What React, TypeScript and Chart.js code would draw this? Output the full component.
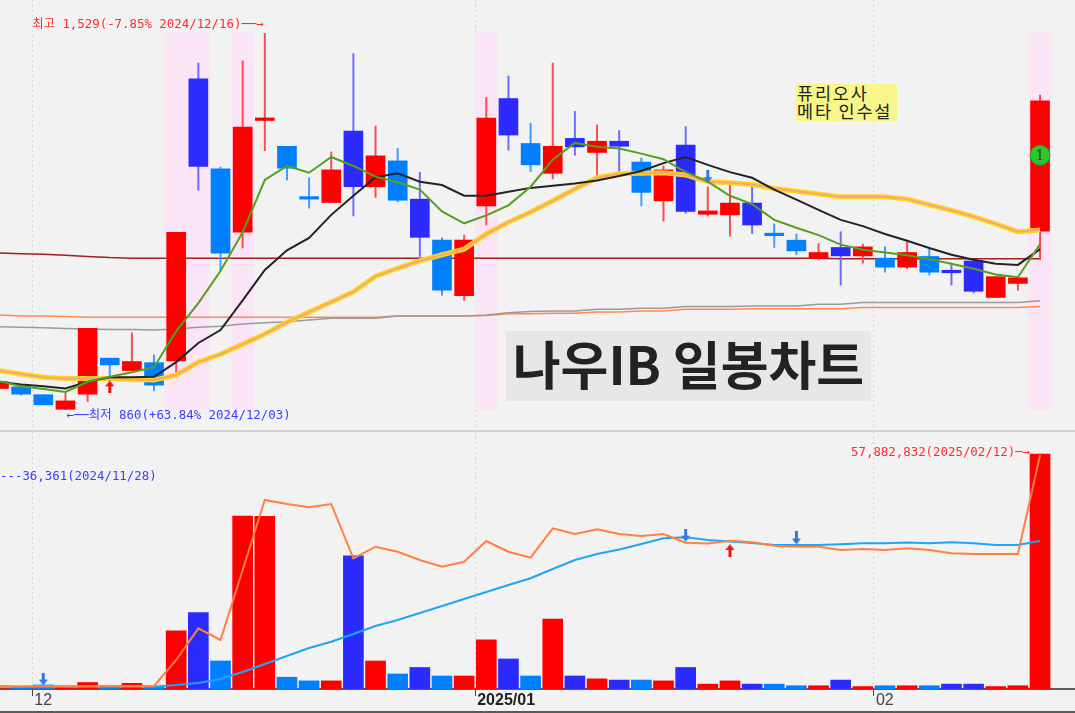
import React, { useEffect, useRef } from 'react';
import { Chart, registerables } from 'chart.js';

Chart.register(...registerables);

// ---------------- data ----------------
const DATES = [
  '2024/11/28', '2024/11/29', '2024/12/02', '2024/12/03', '2024/12/04', '2024/12/05', '2024/12/06', '2024/12/09',
  '2024/12/10', '2024/12/11', '2024/12/12', '2024/12/13', '2024/12/16', '2024/12/17', '2024/12/18', '2024/12/19',
  '2024/12/20', '2024/12/23', '2024/12/24', '2024/12/26', '2024/12/27', '2024/12/30', '2025/01/02', '2025/01/03',
  '2025/01/06', '2025/01/07', '2025/01/08', '2025/01/09', '2025/01/10', '2025/01/13', '2025/01/14', '2025/01/15',
  '2025/01/16', '2025/01/17', '2025/01/20', '2025/01/21', '2025/01/22', '2025/01/23', '2025/01/24', '2025/01/31',
  '2025/02/03', '2025/02/04', '2025/02/05', '2025/02/06', '2025/02/07', '2025/02/10', '2025/02/11', '2025/02/12',
];
const OPEN = [
  897, 900, 886, 860, 887, 951, 929, 943, 946, 1448, 1288, 1175, 1374, 1328, 1235, 1228,
  1355, 1256, 1302, 1234, 1161, 1062, 1222, 1413, 1333, 1280, 1342, 1317, 1337, 1300, 1231, 1330,
  1207, 1206, 1227, 1170, 1161, 1129, 1148, 1133, 1129, 1113, 1132, 1104, 1124, 1059, 1084, 1177,
];
const HIGH = [
  910, 900, 886, 890, 1004, 951, 996, 957, 1175, 1476, 1291, 1480, 1529, 1328, 1272, 1318,
  1493, 1364, 1324, 1282, 1165, 1170, 1415, 1453, 1369, 1476, 1390, 1366, 1356, 1307, 1293, 1363,
  1256, 1259, 1256, 1190, 1172, 1155, 1176, 1154, 1149, 1158, 1146, 1120, 1127, 1096, 1094, 1419,
];
const LOW = [
  896, 885, 868, 860, 874, 918, 929, 893, 918, 1250, 1107, 1147, 1320, 1268, 1218, 1228,
  1204, 1237, 1229, 1132, 1063, 1054, 1188, 1321, 1283, 1270, 1312, 1271, 1283, 1222, 1195, 1209,
  1204, 1168, 1173, 1148, 1135, 1126, 1081, 1120, 1104, 1110, 1099, 1081, 1067, 1059, 1072, 1126,
];
const CLOSE = [
  909, 887, 868, 875, 1004, 939, 945, 903, 1175, 1292, 1138, 1362, 1376, 1289, 1234, 1286,
  1256, 1311, 1232, 1166, 1072, 1161, 1378, 1348, 1295, 1328, 1327, 1337, 1328, 1246, 1286, 1212,
  1213, 1227, 1188, 1169, 1142, 1139, 1133, 1149, 1113, 1139, 1104, 1103, 1070, 1096, 1094, 1409,
];
// volume, millions of shares
const VOLUME_M = [
  0.036361, 0.57, 1.0, 0.7, 1.6, 0.7, 1.4, 0.7, 14.3, 18.8, 6.9, 42.6, 42.5, 2.9, 2.0, 2.0,
  32.8, 6.9, 3.7, 5.3, 3.2, 3.2, 12.1, 7.4, 3.2, 17.2, 3.2, 2.5, 2.2, 2.2, 2.0, 5.3,
  1.2, 2.0, 1.2, 1.2, 0.8, 0.8, 2.2, 0.6, 0.8, 0.8, 0.8, 1.2, 1.2, 0.6, 0.8, 57.882832,
];
const MA5 = [
  910, 901, 896, 891, 909, 918, 926, 935, 999, 1049, 1106, 1175, 1268, 1293, 1281, 1309,
  1293, 1274, 1264, 1251, 1212, 1191, 1205, 1223, 1256, 1304, 1334, 1327, 1324, 1315, 1305, 1282,
  1265, 1240, 1225, 1197, 1183, 1170, 1153, 1144, 1139, 1134, 1127, 1119, 1110, 1100, 1095, 1154,
];
const MA10 = [
  909, 904, 901, 897, 909, 917, 917, 918, 944, 978, 1001, 1054, 1108, 1143, 1165, 1206,
  1240, 1273, 1280, 1265, 1259, 1240, 1240, 1247, 1254, 1258, 1262, 1267, 1275, 1284, 1298, 1309,
  1295, 1282, 1272, 1251, 1233, 1215, 1197, 1186, 1172, 1160, 1147, 1135, 1126, 1119, 1117, 1145,
];
const MA20 = [
  929, 923, 917, 915, 915, 915, 913, 912, 921, 944, 958, 976, 994, 1015, 1033, 1051,
  1069, 1097, 1111, 1124, 1135, 1145, 1172, 1193, 1211, 1231, 1252, 1272, 1279, 1280, 1281, 1277,
  1265, 1263, 1260, 1253, 1248, 1243, 1238, 1238, 1238, 1234, 1224, 1214, 1203, 1190, 1176, 1179,
];
const MA60 = [
  1138, 1137, 1136, 1134, 1132, 1130, 1129, 1129, 1129, 1129, 1129, 1129, 1129, 1129, 1129, 1129,
  1129, 1129, 1129, 1129, 1129, 1129, 1129, 1129, 1129, 1129, 1129, 1129, 1129, 1129, 1129, 1129,
  1129, 1129, 1129, 1129, 1129, 1129, 1128, 1128, 1128, 1128, 1128, 1128, 1128, 1128, 1128, 1128,
];
const MA120 = [
  1028, 1026, 1026, 1025, 1024, 1024, 1024, 1024, 1024, 1024, 1024, 1024, 1024, 1024, 1024, 1024,
  1024, 1024, 1026, 1026, 1026, 1026, 1027, 1030, 1030, 1031, 1031, 1033, 1033, 1035, 1035, 1038,
  1038, 1038, 1039, 1039, 1039, 1039, 1039, 1041, 1041, 1041, 1041, 1041, 1041, 1041, 1041, 1043,
];
const MA240 = [
  1007, 1006, 1005, 1004, 1003, 1002, 1002, 1001, 1003, 1006, 1008, 1012, 1014, 1016, 1019, 1022,
  1022, 1022, 1026, 1026, 1026, 1026, 1028, 1032, 1034, 1035, 1035, 1038, 1038, 1040, 1040, 1043,
  1043, 1043, 1044, 1044, 1044, 1047, 1047, 1050, 1050, 1050, 1050, 1050, 1050, 1050, 1050, 1053,
];
const VOL_MA_SHORT = [
  0.74, 0.62, 0.74, 0.62, 0.74, 0.74, 0.74, 0.74, 7.14, 14.95, 12.07, 29.3, 46.55, 45.57, 44.75, 45.57,
  32.19, 35.05, 33.82, 31.77, 30.12, 31.35, 36.45, 33.82, 32.34, 39.58, 38.18, 39.33, 38.18, 37.68, 38.18, 36.03,
  35.84, 36.53, 36.13, 35.3, 35.05, 35.05, 34.24, 34.48, 34.24, 34.66, 34.24, 33.42, 33.25, 33.25, 33.25, 57.64,
];
const VOL_MA_LONG = [
  0.57, 0.57, 0.57, 0.57, 0.57, 0.57, 0.57, 0.57, 0.99, 1.48, 2.46, 4.19, 6.16, 8.13, 10.1, 11.65,
  13.55, 15.52, 17.0, 18.72, 20.44, 22.17, 23.89, 25.62, 27.27, 29.56, 31.77, 33.25, 34.36, 35.71, 37.12, 37.36,
  36.7, 36.33, 35.96, 35.47, 35.47, 35.47, 35.64, 35.89, 35.89, 36.08, 35.89, 36.13, 35.89, 35.47, 35.47, 36.45,
];
const HIGHLIGHT_DATES = ['2024/12/10', '2024/12/11', '2024/12/13', '2025/01/02', '2025/02/12'];
const PRICE_SIGNALS = [
  { date: '2024/12/05', value: 900, dir: 'up' },
  { date: '2025/01/16', value: 1274, dir: 'down' },
];
const VOLUME_SIGNALS = [
  { date: '2024/12/02', value: 2.46, dir: 'down' },
  { date: '2025/01/15', value: 37.9, dir: 'down' },
  { date: '2025/01/17', value: 34.1, dir: 'up' },
  { date: '2025/01/22', value: 37.2, dir: 'down' },
];
const BADGE = { date: '2025/02/12', value: 1312, text: '1' };
const TITLE = '나우IB 일봉차트';
const NOTE = ['퓨리오사', '메타 인수설'];

// ---------------- view settings ----------------
const X_MIN = 0.045;
const X_MAX = 48.578;
const PRICE_MIN = 823.2;
const PRICE_MAX = 1588.3;
const VOL_MAX = 63.3;

const RED = '#FF0000';
const RED_WICK = '#FF4A4A';
const DBLUE = '#2B2BFF';
const DBLUE_WICK = '#6A6AFF';
const LBLUE = '#0080FF';
const LBLUE_WICK = '#3D9BFF';
const LABEL_FONT = '12.4px "DejaVu Sans Mono", "Noto Sans CJK KR", monospace';

function kind(i: number): 'up' | 'down' | 'down2' {
  if (CLOSE[i] >= OPEN[i]) return 'up';
  if (i > 0 && OPEN[i] >= CLOSE[i - 1]) return 'down';
  return 'down2';
}
const bodyColor = (i: number) => ({ up: RED, down: DBLUE, down2: LBLUE }[kind(i)]);
const wickColor = (i: number) => ({ up: RED_WICK, down: DBLUE_WICK, down2: LBLUE_WICK }[kind(i)]);

// month boundaries -> tick positions and labels
const MONTH_TICKS: number[] = [];
const MONTH_LABELS: string[] = [];
DATES.forEach((d, i) => {
  if (i === 0) return;
  const [y0, m0] = DATES[i - 1].split('/');
  const [y1, m1] = d.split('/');
  if (m0 !== m1) {
    MONTH_TICKS.push(i - 0.5);
    MONTH_LABELS.push(y0 !== y1 ? `${y1}/${m1}` : m1);
  }
});

function makeArrow(color: string, dir: string): HTMLCanvasElement {
  const c = document.createElement('canvas');
  c.width = 9;
  c.height = 13;
  const g = c.getContext('2d')!;
  g.fillStyle = color;
  g.beginPath();
  if (dir === 'up') {
    g.moveTo(4.5, 0); g.lineTo(9, 6); g.lineTo(6, 6); g.lineTo(6, 13);
    g.lineTo(3, 13); g.lineTo(3, 6); g.lineTo(0, 6);
  } else {
    g.moveTo(4.5, 13); g.lineTo(9, 7); g.lineTo(6, 7); g.lineTo(6, 0);
    g.lineTo(3, 0); g.lineTo(3, 7); g.lineTo(0, 7);
  }
  g.closePath();
  g.fill();
  return c;
}

const fmt = (n: number) => n.toLocaleString('en-US');
const series = (arr: number[]) => arr.map((v, i) => ({ x: i, y: v }));

function monthTicks(scale: any) {
  scale.ticks = MONTH_TICKS.map((v) => ({ value: v }));
}

function lineDs(label: string, arr: number[], color: string, width: number, order: number) {
  return {
    type: 'line' as const,
    label,
    data: series(arr),
    borderColor: color,
    borderWidth: width,
    pointRadius: 0,
    tension: 0,
    fill: false,
    order,
  };
}

export default function App() {
  const priceRef = useRef<HTMLCanvasElement>(null);
  const volRef = useRef<HTMLCanvasElement>(null);

  useEffect(() => {
    const upRed = makeArrow('#E81414', 'up');
    const downBlue = makeArrow('#2C7BE5', 'down');
    const arrowFor = (dir: string) => (dir === 'up' ? upRed : downBlue);

    const lo = Math.min(...LOW);
    const hi = Math.max(...HIGH);
    const bandIdx = HIGHLIGHT_DATES.map((d) => DATES.indexOf(d));

    const priceAnnotations = {
      id: 'priceAnnotations',
      afterDatasetsDraw(chart: any) {
        const { ctx } = chart;
        const xs = chart.scales.x;
        const ys = chart.scales.y;
        const hiIdx = HIGH.indexOf(hi);
        const loIdx = LOW.indexOf(lo);
        const last = CLOSE[CLOSE.length - 1];
        ctx.save();
        ctx.font = LABEL_FONT;
        ctx.textBaseline = 'middle';
        ctx.fillStyle = '#FF2B2B';
        ctx.textAlign = 'right';
        ctx.fillText(
          `최고 ${fmt(hi)}(${((last / hi - 1) * 100).toFixed(2)}% ${DATES[hiIdx]})──→`,
          xs.getPixelForValue(hiIdx) - 1,
          ys.getPixelForValue(hi) - 9,
        );
        ctx.fillStyle = '#3B3BFF';
        ctx.textAlign = 'left';
        ctx.fillText(
          `←──최저 ${fmt(lo)}(+${((last / lo - 1) * 100).toFixed(2)}% ${DATES[loIdx]})`,
          xs.getPixelForValue(loIdx) + 1,
          ys.getPixelForValue(lo) + 6,
        );
        const bi = DATES.indexOf(BADGE.date);
        ctx.fillStyle = '#1F4F1F';
        ctx.textAlign = 'center';
        ctx.font = '14px "DejaVu Serif", serif';
        ctx.fillText(BADGE.text, xs.getPixelForValue(bi), ys.getPixelForValue(BADGE.value) + 1);
        ctx.restore();
      },
    };

    const volAnnotations = {
      id: 'volAnnotations',
      afterDatasetsDraw(chart: any) {
        const { ctx, chartArea } = chart;
        const xs = chart.scales.x;
        const ys = chart.scales.y;
        const vMax = Math.max(...VOLUME_M);
        const iMax = VOLUME_M.indexOf(vMax);
        const vMin = Math.min(...VOLUME_M);
        const iMin = VOLUME_M.indexOf(vMin);
        ctx.save();
        ctx.font = LABEL_FONT;
        ctx.textBaseline = 'middle';
        ctx.fillStyle = '#FF2B2B';
        ctx.textAlign = 'right';
        ctx.fillText(
          `${fmt(Math.round(vMax * 1e6))}(${DATES[iMax]})─→`,
          xs.getPixelForValue(iMax) - 10,
          ys.getPixelForValue(vMax) - 1,
        );
        ctx.fillStyle = '#3B3BFF';
        ctx.textAlign = 'left';
        ctx.fillText(`---${fmt(Math.round(vMin * 1e6))}(${DATES[iMin]})`, chartArea.left, chartArea.top + 45);
        ctx.restore();
      },
    };

    const baseX = {
      type: 'linear' as const,
      min: X_MIN,
      max: X_MAX,
      offset: false,
      afterBuildTicks: monthTicks,
    };

    const commonOptions = {
      animation: false,
      responsive: false,
      maintainAspectRatio: false,
      devicePixelRatio: 1,
      events: [],
      layout: { padding: 0, autoPadding: false },
      plugins: { legend: { display: false }, tooltip: { enabled: false }, title: { display: false } },
    };

    const priceChart = new Chart(priceRef.current!, {
      type: 'bar',
      data: {
        datasets: [
          {
            type: 'bar',
            label: 'highlight',
            data: bandIdx.map((i) => ({ x: i, y: [lo, hi] })),
            backgroundColor: '#FCE4F7',
            barThickness: 22.2,
            grouped: false,
            order: 20,
          } as any,
          lineDs('MA240', MA240, '#9A9A9A', 1.5, 15),
          lineDs('MA120', MA120, '#FF8A50', 1.5, 15),
          lineDs('MA60', MA60, '#A01E1E', 1.5, 15),
          {
            type: 'bar',
            label: 'wick',
            data: LOW.map((l, i) => ({ x: i, y: [l, HIGH[i]] })),
            backgroundColor: (c: any) => wickColor(c.dataIndex),
            barThickness: 1.3,
            grouped: false,
            order: 12,
          } as any,
          {
            type: 'bar',
            label: 'body',
            data: OPEN.map((o, i) => ({ x: i, y: [o, CLOSE[i]] })),
            backgroundColor: (c: any) => bodyColor(c.dataIndex),
            barThickness: 19,
            minBarLength: 2.5,
            grouped: false,
            order: 11,
          } as any,
          lineDs('MA20', MA20, '#FFD21F', 5, 8),
          lineDs('MA20core', MA20, '#F2A083', 1.5, 7),
          lineDs('MA10', MA10, '#232323', 2, 6),
          lineDs('MA5', MA5, '#55A01C', 2, 5),
          {
            type: 'line',
            label: 'signals',
            data: PRICE_SIGNALS.map((s) => ({ x: DATES.indexOf(s.date), y: s.value, dir: s.dir })),
            showLine: false,
            pointStyle: (c: any) => arrowFor(c.raw?.dir),
            pointRadius: 6,
            order: 1,
          } as any,
          {
            type: 'line',
            label: 'badge',
            data: [{ x: DATES.indexOf(BADGE.date), y: BADGE.value }],
            showLine: false,
            pointStyle: 'circle',
            pointRadius: 10,
            pointBackgroundColor: '#2DC62D',
            pointBorderColor: '#22A322',
            pointBorderWidth: 1,
            order: 0,
          } as any,
        ],
      },
      options: {
        ...commonOptions,
        scales: {
          x: {
            ...baseX,
            afterFit: (s: any) => { s.height = 0; },
            ticks: { display: false },
            grid: { color: '#D6D6D6', lineWidth: 1, drawTicks: false, offset: false },
            border: { display: false, dash: [2, 3] },
          },
          y: { display: false, min: PRICE_MIN, max: PRICE_MAX },
        },
      } as any,
      plugins: [priceAnnotations],
    });

    const isYearLabel = (i: number) => (MONTH_LABELS[i] || '').length > 2;

    const volChart = new Chart(volRef.current!, {
      type: 'bar',
      data: {
        datasets: [
          {
            type: 'bar',
            label: '거래량',
            data: series(VOLUME_M),
            backgroundColor: (c: any) => bodyColor(c.dataIndex),
            barThickness: 20,
            grouped: false,
            order: 10,
          } as any,
          lineDs('거래량 장기', VOL_MA_LONG, '#1EA6F5', 2, 6),
          lineDs('거래량 단기', VOL_MA_SHORT, '#FF8040', 2, 5),
          {
            type: 'line',
            label: 'signals',
            data: VOLUME_SIGNALS.map((s) => ({ x: DATES.indexOf(s.date), y: s.value, dir: s.dir })),
            showLine: false,
            pointStyle: (c: any) => arrowFor(c.raw?.dir),
            pointRadius: 6,
            order: 0,
          } as any,
        ],
      },
      options: {
        ...commonOptions,
        scales: {
          x: {
            ...baseX,
            afterFit: (s: any) => { s.height = 24; },
            ticks: {
              autoSkip: false,
              maxRotation: 0,
              minRotation: 0,
              align: 'start',
              labelOffset: 2,
              padding: -5,
              callback: (_v: any, idx: number) => MONTH_LABELS[idx],
              color: (c: any) => (isYearLabel(c.index) ? '#222' : '#444'),
              font: (c: any) =>
                isYearLabel(c.index)
                  ? { family: '"Liberation Sans", sans-serif', size: 16, weight: 'bold' }
                  : { family: '"Liberation Sans Narrow", "Liberation Sans", sans-serif', size: 16, weight: 'normal' },
            },
            grid: {
              color: '#D6D6D6', lineWidth: 1, drawTicks: true, tickLength: 7, tickColor: '#444',
              tickWidth: 1, offset: false,
            },
            border: { display: true, color: '#5E5E5E', width: 2, dash: [2, 3] },
          },
          y: { display: false, min: 0, max: VOL_MAX },
        },
      } as any,
      plugins: [volAnnotations],
    });

    return () => {
      priceChart.destroy();
      volChart.destroy();
    };
  }, []);

  return (
    <div
      style={{
        position: 'fixed', left: 0, top: 0, width: 1075, height: 713, background: '#F2F2F2',
        overflow: 'hidden', fontFamily: '"Noto Sans CJK KR", sans-serif',
      }}
    >
      <canvas ref={priceRef} width={1075} height={430}
        style={{ position: 'absolute', left: 0, top: 0, width: 1075, height: 430 }} />
      <div style={{ position: 'absolute', left: 0, top: 430, width: 1075, height: 2, background: '#D2D2D2' }} />
      <canvas ref={volRef} width={1075} height={281}
        style={{ position: 'absolute', left: 0, top: 432, width: 1075, height: 281 }} />
      <div style={{ position: 'absolute', left: 0, top: 711, width: 1075, height: 2, background: '#5A5A5A' }} />
      <div
        style={{
          position: 'absolute', left: 506, top: 331, width: 365, height: 70, background: '#E7E7E7',
          color: '#222', fontWeight: 700, fontSize: 52, lineHeight: '64px', textAlign: 'center',
          whiteSpace: 'nowrap', overflow: 'hidden',
        }}
      >
        {TITLE}
      </div>
      <div
        style={{
          position: 'absolute', left: 796, top: 84, width: 101, height: 37, background: '#F6F68A',
          color: '#222', fontSize: 17.5, lineHeight: '18px', letterSpacing: 1.8, whiteSpace: 'nowrap',
          paddingLeft: 1, boxSizing: 'border-box', overflow: 'hidden',
        }}
      >
        {NOTE.map((t) => (
          <div key={t}>{t}</div>
        ))}
      </div>
    </div>
  );
}
